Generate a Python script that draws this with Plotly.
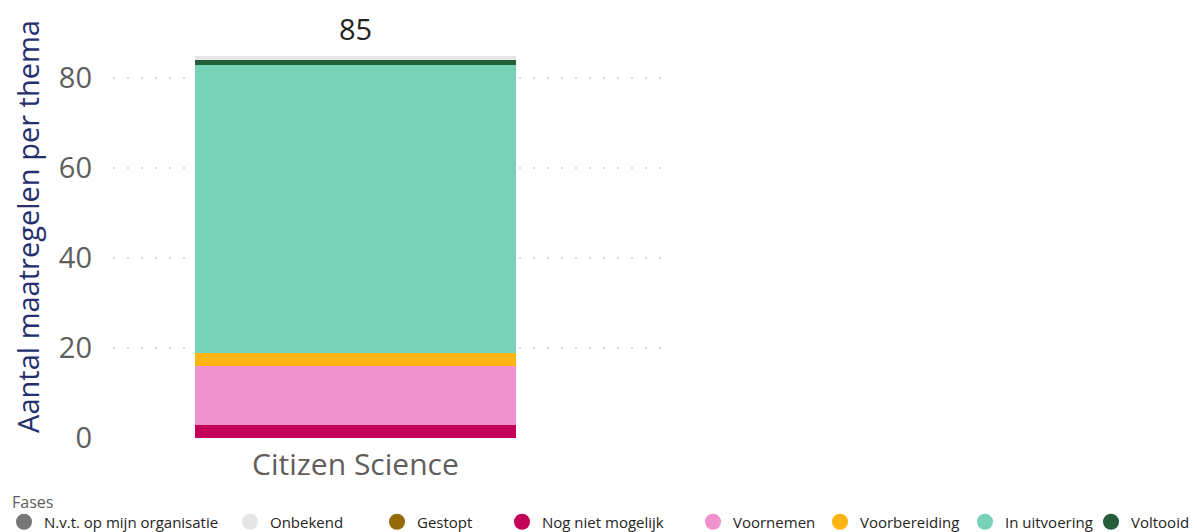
import plotly.graph_objects as go

categories = ["Citizen Science"]
phases = ["N.v.t. op mijn organisatie", "Onbekend", "Gestopt", "Nog niet mogelijk",
          "Voornemen", "Voorbereiding", "In uitvoering", "Voltooid"]
values = {
    "N.v.t. op mijn organisatie": [0],
    "Onbekend": [1],
    "Gestopt": [0],
    "Nog niet mogelijk": [3],
    "Voornemen": [13],
    "Voorbereiding": [3],
    "In uitvoering": [64],
    "Voltooid": [1],
}
colors = {
    "N.v.t. op mijn organisatie": "#777777",
    "Onbekend": "#E6E6E6",
    "Gestopt": "#946A0B",
    "Nog niet mogelijk": "#C50058",
    "Voornemen": "#F092CD",
    "Voorbereiding": "#FDB515",
    "In uitvoering": "#76D3B7",
    "Voltooid": "#255E3A",
}
# stacking order bottom -> top
stack_order = ["N.v.t. op mijn organisatie", "Gestopt", "Nog niet mogelijk", "Voornemen",
               "Voorbereiding", "In uitvoering", "Voltooid", "Onbekend"]
y_ticks = [0, 20, 40, 60, 80]

# legend entry circle centres (pixels in the page)
legend_px = [24, 250, 397, 522, 713, 840, 985, 1111]

FONT = "Open Sans"
W, H = 1197, 532
OFF = 8  # page body margin
PL, PR, PT, PB = 113, 672, 15, 438  # plot area in page pixels
fig = go.Figure()
for p in stack_order:
    fig.add_trace(go.Bar(x=categories, y=values[p], name=p, marker_color=colors[p],
                         marker_line_width=0, showlegend=False))

legend_layouts = {}
for i, p in enumerate(phases):
    key = "legend" if i == 0 else f"legend{i + 1}"
    fig.add_trace(go.Scatter(x=[None], y=[None], mode="markers", name=p, legend=key,
                             marker=dict(symbol="circle", size=17, color=colors[p])))
    left_page = legend_px[i] - 20
    legend_layouts[key] = dict(
        xref="paper", yref="container",
        x=(left_page - PL) / (PR - PL), y=(H - (522 - OFF)) / H,
        xanchor="left", yanchor="middle", orientation="h",
        bgcolor="rgba(0,0,0,0)", borderwidth=0,
        font=dict(size=15, color="#252423", family=FONT),
    )

totals = [sum(values[p][i] for p in phases) for i in range(len(categories))]
for c, t in zip(categories, totals):
    fig.add_annotation(x=c, y=t, text=str(t), showarrow=False, yanchor="middle", yshift=27,
                       borderpad=0, font=dict(family=FONT, size=29, color="#252423"))

fig.add_annotation(text="Fases", xref="paper", yref="paper", x=(10 - PL) / (PR - PL),
                   y=(PB - 502) / (PB - PT), xanchor="left", yanchor="middle", showarrow=False,
                   font=dict(family=FONT, size=16, color="#605E5C"))

fig.update_layout(
    width=W, height=H,
    margin=dict(l=PL - OFF, r=W - (PR - OFF), t=PT - OFF, b=H - (PB - OFF), autoexpand=False),
    paper_bgcolor="white", plot_bgcolor="white",
    barmode="stack", bargap=0.338,
    font=dict(family=FONT),
    showlegend=True,
    **legend_layouts,
)
fig.update_xaxes(range=[-0.5, 0.653], showgrid=False, showline=False, zeroline=False,
                 ticklabelstandoff=6,
                 tickfont=dict(size=30, color="#605E5C", family=FONT))
fig.update_yaxes(range=[0, (PB - PT) / 4.5], tickvals=y_ticks, showgrid=True, gridcolor="#D5DDE8",
                 griddash="2px,12px", gridwidth=2, zeroline=False, showline=False,
                 ticklabelstandoff=20,
                 tickfont=dict(size=29, color="#605E5C", family=FONT),
                 title=dict(text="Aantal maatregelen per thema", standoff=12,
                            font=dict(size=29, color="#252F6E", family=FONT)))
fig.write_html("out.html")
